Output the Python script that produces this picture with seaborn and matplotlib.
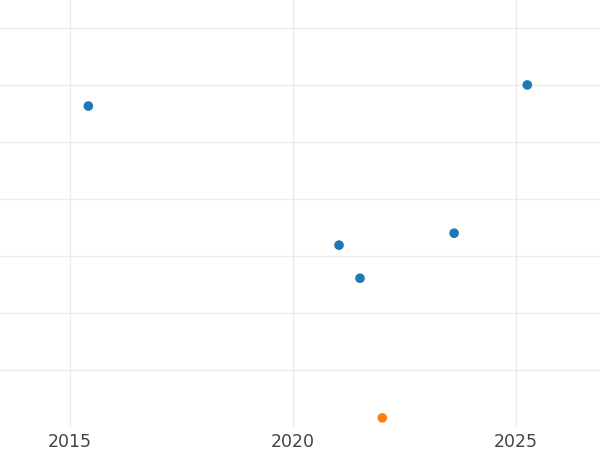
import seaborn as sns
import pandas as pd
import matplotlib.pyplot as plt

# values
years = [2015.41, 2021.03, 2021.50, 2023.61, 2025.25, 2022.0]
scores = [5.63, 3.19, 2.61, 3.40, 6.0, 0.16]
groups = ["a", "a", "a", "a", "a", "b"]

df = pd.DataFrame({"year": years, "score": scores, "group": groups})

sns.set_style("whitegrid")
fig = plt.figure(figsize=(6, 4.5), dpi=100)
ax = fig.add_axes([0, 1 - 427 / 450, 1, 427 / 450])

sns.scatterplot(data=df, x="year", y="score", hue="group",
                palette=["#1f77b4", "#ff7f0e"], s=48, linewidth=0,
                legend=False, ax=ax)

ax.set_xlim(2013.43, 2026.88)
ax.set_ylim(0, 7.49)
ax.set_xticks([2015, 2020, 2025])
ax.set_yticks([1, 2, 3, 4, 5, 6, 7])
ax.set_yticklabels([])
ax.grid(True, color="#ebebeb", linewidth=1)
ax.tick_params(axis="x", labelsize=12.5, labelcolor="#444444", length=0, pad=4)
ax.tick_params(axis="y", length=0)
ax.set_xlabel("")
ax.set_ylabel("")
for s in ax.spines.values():
    s.set_visible(False)

fig.savefig("out.png", dpi=100)
